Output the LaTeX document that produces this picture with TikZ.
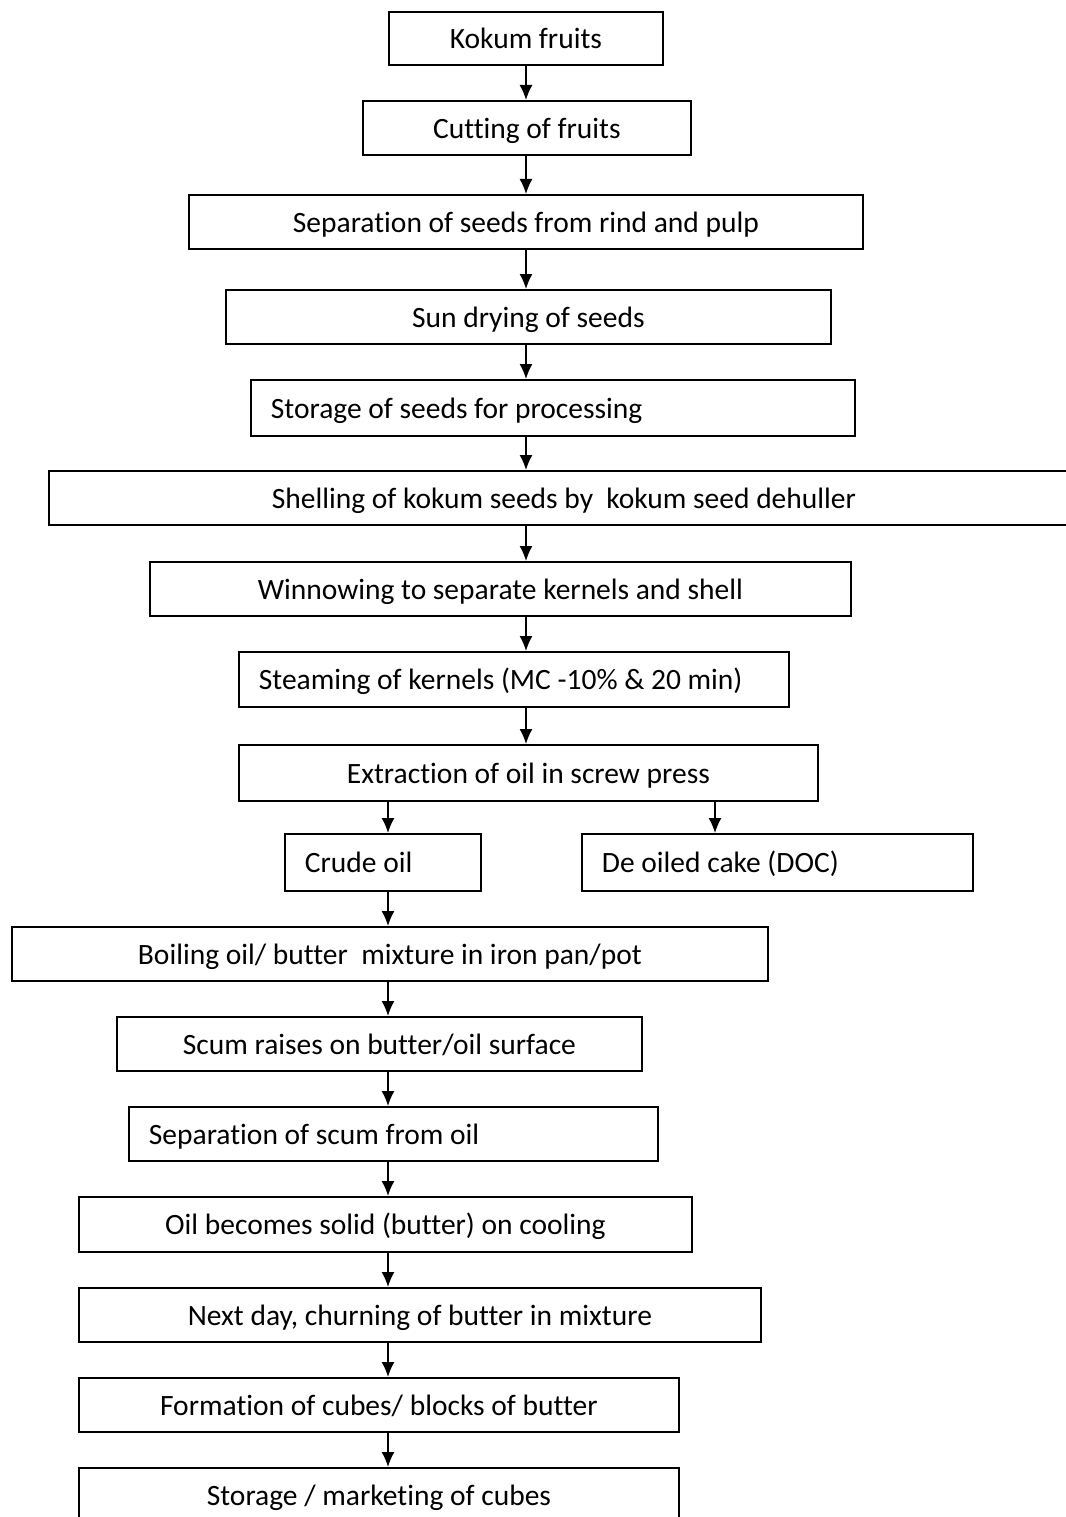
\documentclass[tikz,border=0pt]{standalone}
\usepackage{fontspec}
\setmainfont[Ligatures=NoCommon]{Carlito}
\usetikzlibrary{arrows.meta}
\tikzset{
stepbox/.style={draw,line width=1.8pt,anchor=north west,minimum height=54pt,
  inner xsep=0pt,text height=22pt,text depth=1pt,font=\fontsize{29.5}{34}\selectfont},
leftbox/.style={stepbox,align=flush left,inner xsep=20pt,text width=#1},
arr/.style={line width=1.4pt,-{Latex[length=15pt,width=13pt]}}
}
\begin{document}
\begin{tikzpicture}[x=1pt,y=-1pt]
\useasboundingbox (0,0) rectangle (1065,1517);
\coordinate (spine) at (526,0);
\coordinate (oilx) at (388,0);
\coordinate (cakex) at (715,0);

\node[stepbox,minimum width=274pt,minimum height=53pt] (kokum) at (388,11) {Kokum fruits};
\node[stepbox,minimum width=328pt] (cutting) at (362,100) {Cutting of fruits};
\node[stepbox,minimum width=674pt] (seprind) at (188,194) {Separation of seeds from rind and pulp};
\node[stepbox,minimum width=605pt] (sundry) at (225,289) {Sun drying of seeds};
\node[leftbox=564pt,minimum height=56pt] (storeseed) at (250,379) {Storage of seeds for processing};
\node[stepbox,minimum width=1030pt] (shelling) at (48,470) {Shelling of kokum seeds by\ \ kokum seed dehuller};
\node[stepbox,minimum width=701pt] (winnow) at (149,561) {Winnowing to separate kernels and shell};
\node[leftbox=510pt,minimum height=55pt] (steam) at (238,651) {Steaming of kernels (MC -10\% \& 20 min)};
\node[stepbox,minimum width=579pt,minimum height=56pt] (extract) at (238,744) {Extraction of oil in screw press};
\node[leftbox=156pt,minimum height=57pt] (crude) at (284,833) {Crude oil};
\node[leftbox=351pt,minimum height=57pt] (cake) at (581,833) {De oiled cake (DOC)};
\node[stepbox,minimum width=756pt] (boil) at (11,926) {Boiling oil/ butter\ \ mixture in iron pan/pot};
\node[stepbox,minimum width=525pt] (scum) at (116,1016) {Scum raises on butter/oil surface};
\node[leftbox=489pt] (sepscum) at (128,1106) {Separation of scum from oil};
\node[stepbox,minimum width=613pt,minimum height=55pt] (solid) at (78,1196) {Oil becomes solid (butter) on cooling};
\node[stepbox,minimum width=682pt] (churn) at (78,1287) {Next day, churning of butter in mixture};
\node[stepbox,minimum width=600pt] (cubes) at (78,1377) {Formation of cubes/ blocks of butter};
\node[stepbox,minimum width=600pt] (market) at (78,1467) {Storage / marketing of cubes};

\draw[arr] (kokum.south -| spine) -- (cutting.north -| spine);
\draw[arr] (cutting.south -| spine) -- (seprind.north -| spine);
\draw[arr] (seprind.south -| spine) -- (sundry.north -| spine);
\draw[arr] (sundry.south -| spine) -- (storeseed.north -| spine);
\draw[arr] (storeseed.south -| spine) -- (shelling.north -| spine);
\draw[arr] (shelling.south -| spine) -- (winnow.north -| spine);
\draw[arr] (winnow.south -| spine) -- (steam.north -| spine);
\draw[arr] (steam.south -| spine) -- (extract.north -| spine);
\draw[arr] (extract.south -| oilx) -- (crude.north -| oilx);
\draw[arr] (extract.south -| cakex) -- (cake.north -| cakex);
\draw[arr] (crude.south -| oilx) -- (boil.north -| oilx);
\draw[arr] (boil.south -| oilx) -- (scum.north -| oilx);
\draw[arr] (scum.south -| oilx) -- (sepscum.north -| oilx);
\draw[arr] (sepscum.south -| oilx) -- (solid.north -| oilx);
\draw[arr] (solid.south -| oilx) -- (churn.north -| oilx);
\draw[arr] (churn.south -| oilx) -- (cubes.north -| oilx);
\draw[arr] (cubes.south -| oilx) -- (market.north -| oilx);
\end{tikzpicture}
\end{document}
